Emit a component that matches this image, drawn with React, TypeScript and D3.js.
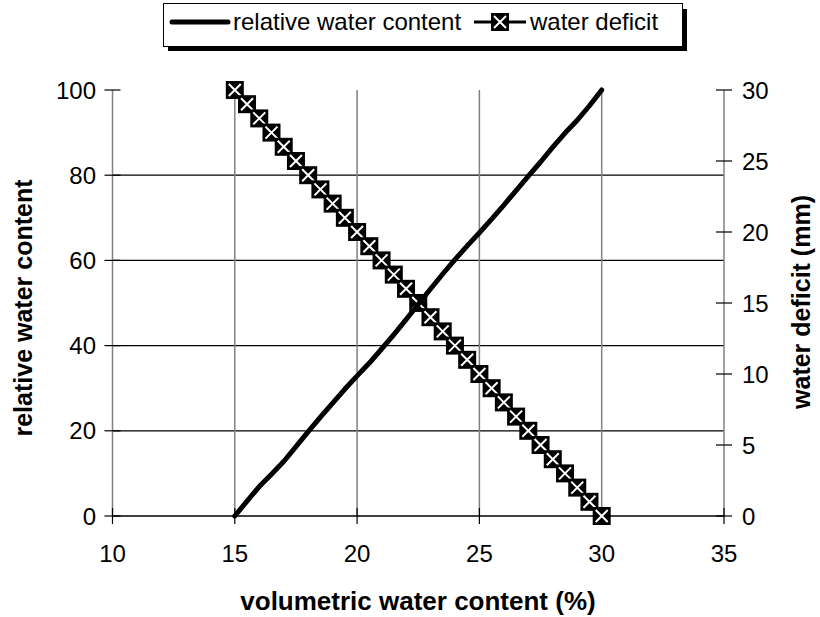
import { useEffect, useRef } from "react";
import * as d3 from "d3";

// volumetric water content (%)
const vwc = [
  15, 15.5, 16, 16.5, 17, 17.5, 18, 18.5, 19, 19.5, 20, 20.5, 21, 21.5, 22,
  22.5, 23, 23.5, 24, 24.5, 25, 25.5, 26, 26.5, 27, 27.5, 28, 28.5, 29, 29.5,
  30,
];
// relative water content
const rwc = [
  0, 3.5, 6.9, 9.8, 12.8, 16.3, 19.8, 23.2, 26.5, 29.8, 32.9, 35.9, 39.2, 42.6,
  46.1, 49.7, 53.3, 56.8, 60.2, 63.4, 66.5, 69.7, 73.0, 76.4, 79.8, 83.1, 86.6,
  89.9, 92.9, 96.3, 100,
];
// water deficit (mm)
const deficit = [
  30, 29, 28, 27, 26, 25, 24, 23, 22, 21, 20, 19, 18, 17, 16, 15, 14, 13, 12,
  11, 10, 9, 8, 7, 6, 5, 4, 3, 2, 1, 0,
];

const xTicks = [10, 15, 20, 25, 30, 35];
const yLeftTicks = [0, 20, 40, 60, 80, 100];
const yRightTicks = [0, 5, 10, 15, 20, 25, 30];

const FONT = "'Liberation Sans', Arial, sans-serif";
const TICK_FS = 24;
const TITLE_FS = 25;

const App = () => {
  const svgRef = useRef<SVGSVGElement>(null);

  useEffect(() => {
    if (!svgRef.current) return;
    const svg = d3.select(svgRef.current);
    svg.selectAll("*").remove();

    const x = d3.scaleLinear().domain([10, 35]).range([112.5, 724]);
    const yL = d3.scaleLinear().domain([0, 100]).range([516, 90]);
    const yR = d3.scaleLinear().domain([0, 30]).range([516, 90]);
    const [x0, x1] = x.range();
    const [yb, yt] = yL.range();

    // horizontal grid
    svg
      .append("g")
      .selectAll("line")
      .data(yLeftTicks.filter((d) => d > 0 && d < 100))
      .join("line")
      .attr("x1", x0)
      .attr("x2", x1)
      .attr("y1", (d) => yL(d))
      .attr("y2", (d) => yL(d))
      .attr("stroke", "#000")
      .attr("stroke-width", 1.2);

    // vertical grid + side axes (grey)
    svg
      .append("g")
      .selectAll("line")
      .data(xTicks)
      .join("line")
      .attr("x1", (d) => x(d))
      .attr("x2", (d) => x(d))
      .attr("y1", yt)
      .attr("y2", yb)
      .attr("stroke", "#808080")
      .attr("stroke-width", 1.5);

    // bottom axis
    svg
      .append("line")
      .attr("x1", x0)
      .attr("x2", x1)
      .attr("y1", yb)
      .attr("y2", yb)
      .attr("stroke", "#000")
      .attr("stroke-width", 1.5);

    // x ticks
    svg
      .append("g")
      .selectAll("line")
      .data(xTicks)
      .join("line")
      .attr("x1", (d) => x(d))
      .attr("x2", (d) => x(d))
      .attr("y1", yb - 8)
      .attr("y2", yb + 8)
      .attr("stroke", "#000")
      .attr("stroke-width", 1.2);

    svg
      .append("g")
      .selectAll("text")
      .data(xTicks)
      .join("text")
      .attr("x", (d) => x(d))
      .attr("y", 562)
      .attr("text-anchor", "middle")
      .style("font", `${TICK_FS}px ${FONT}`)
      .text((d) => d);

    // left ticks
    svg
      .append("g")
      .selectAll("line")
      .data(yLeftTicks)
      .join("line")
      .attr("x1", x0 - 8)
      .attr("x2", x0 + 8)
      .attr("y1", (d) => yL(d))
      .attr("y2", (d) => yL(d))
      .attr("stroke", "#000")
      .attr("stroke-width", 1.2);

    svg
      .append("g")
      .selectAll("text")
      .data(yLeftTicks)
      .join("text")
      .attr("x", 96)
      .attr("y", (d) => yL(d) + 8.5)
      .attr("text-anchor", "end")
      .style("font", `${TICK_FS}px ${FONT}`)
      .text((d) => d);

    // right ticks
    svg
      .append("g")
      .selectAll("line")
      .data(yRightTicks)
      .join("line")
      .attr("x1", x1 - 8)
      .attr("x2", x1 + 8)
      .attr("y1", (d) => yR(d))
      .attr("y2", (d) => yR(d))
      .attr("stroke", "#000")
      .attr("stroke-width", 1.2);

    svg
      .append("g")
      .selectAll("text")
      .data(yRightTicks)
      .join("text")
      .attr("x", 742)
      .attr("y", (d) => yR(d) + 8.5)
      .attr("text-anchor", "start")
      .style("font", `${TICK_FS}px ${FONT}`)
      .text((d) => d);

    // axis titles
    svg
      .append("text")
      .attr("x", 418)
      .attr("y", 610)
      .attr("text-anchor", "middle")
      .style("font", `bold ${TITLE_FS + 1}px ${FONT}`)
      .text("volumetric water content (%)");

    svg
      .append("text")
      .attr("transform", `translate(32,308) rotate(-90)`)
      .attr("text-anchor", "middle")
      .style("font", `bold ${TITLE_FS}px ${FONT}`)
      .text("relative water content");

    svg
      .append("text")
      .attr("transform", `translate(810,302) rotate(-90)`)
      .attr("text-anchor", "middle")
      .style("font", `bold ${TITLE_FS}px ${FONT}`)
      .text("water deficit (mm)");

    // water deficit series
    const defLine = d3
      .line<number>()
      .x((_, i) => x(vwc[i]))
      .y((d) => yR(d));
    svg
      .append("path")
      .attr("d", defLine(deficit))
      .attr("fill", "none")
      .attr("stroke", "#000")
      .attr("stroke-width", 3);

    const ms = 18;
    const marker = (g: d3.Selection<SVGGElement, unknown, null, undefined>) => {
      g.append("rect")
        .attr("x", -ms / 2)
        .attr("y", -ms / 2)
        .attr("width", ms)
        .attr("height", ms)
        .attr("fill", "#000");
      g.append("path")
        .attr(
          "d",
          `M${-ms / 2 + 3},${-ms / 2 + 3}L${ms / 2 - 3},${ms / 2 - 3}M${ms / 2 - 3},${-ms / 2 + 3}L${-ms / 2 + 3},${ms / 2 - 3}`
        )
        .attr("stroke", "#fff")
        .attr("stroke-width", 2);
    };

    deficit.forEach((d, i) => {
      const g = svg
        .append("g")
        .attr("transform", `translate(${x(vwc[i])},${yR(d)})`);
      marker(g as any);
    });

    // relative water content series
    const rwcLine = d3
      .line<number>()
      .x((_, i) => x(vwc[i]))
      .y((d) => yL(d));
    svg
      .append("path")
      .attr("d", rwcLine(rwc))
      .attr("fill", "none")
      .attr("stroke", "#000")
      .attr("stroke-width", 5)
      .attr("stroke-linecap", "round")
      .attr("stroke-linejoin", "round");

    // legend
    const lg = svg.append("g");
    lg.append("rect")
      .attr("x", 168)
      .attr("y", 9)
      .attr("width", 519)
      .attr("height", 42)
      .attr("fill", "#000");
    lg.append("rect")
      .attr("x", 163.5)
      .attr("y", 3.5)
      .attr("width", 519)
      .attr("height", 43)
      .attr("fill", "#fff")
      .attr("stroke", "#000")
      .attr("stroke-width", 1);
    lg.append("line")
      .attr("x1", 172)
      .attr("x2", 228)
      .attr("y1", 22)
      .attr("y2", 22)
      .attr("stroke", "#000")
      .attr("stroke-width", 5)
      .attr("stroke-linecap", "round");
    lg.append("text")
      .attr("x", 233)
      .attr("y", 30)
      .style("font", `${TICK_FS}px ${FONT}`)
      .text("relative water content");
    lg.append("line")
      .attr("x1", 474)
      .attr("x2", 526)
      .attr("y1", 22)
      .attr("y2", 22)
      .attr("stroke", "#000")
      .attr("stroke-width", 3);
    const lm = lg.append("g").attr("transform", `translate(500,22)`);
    marker(lm as any);
    lg.append("text")
      .attr("x", 530)
      .attr("y", 30)
      .style("font", `${TICK_FS}px ${FONT}`)
      .text("water deficit");
  }, []);

  return (
    <svg
      ref={svgRef}
      width={820}
      height={617}
      style={{ position: "absolute", left: 0, top: 0, background: "#fff" }}
    />
  );
};

export default App;
